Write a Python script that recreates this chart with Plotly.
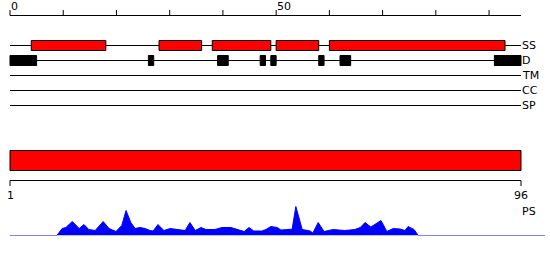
import plotly.graph_objects as go

# ---------------- data ----------------
SEQ_LEN = 96
top_ticks = [0, 10, 20, 30, 40, 50, 60, 70, 80, 90]
top_tick_labels = ["0", "", "", "", "", "50", "", "", "", ""]

tracks = ["SS", "D", "TM", "CC", "SP"]

ss_start = [4, 28, 38, 50, 60]
ss_end = [18, 36, 49, 58, 93]

d_start = [0, 26, 39, 47, 49, 58, 62, 91]
d_end = [5, 27, 41, 48, 50, 59, 64, 96]

ps_domain = [1, 96]
ps_tick_labels = ["1", "96"]
ps_label = "PS"

ps_pos = [0, 8.8, 9.8, 10.5, 11.7, 13.0, 13.9, 14.8, 16.0, 17.5, 18.6, 19.9, 21.0,
          21.8, 22.7, 23.5, 24.4, 25.4, 26.3, 26.9, 27.8, 28.9, 30.1, 31.6, 32.9,
          33.8, 34.8, 35.9, 36.8, 38.5, 39.8, 41.5, 42.7, 44.0, 44.9, 45.8, 47.3,
          48.1, 49.0, 50.2, 50.9, 53.0, 53.7, 54.9, 56.4, 56.9, 57.9, 59.0, 60.7,
          62.9, 64.8, 65.8, 66.7, 67.8, 69.7, 70.8, 72.0, 73.3, 74.2, 74.8, 75.9,
          76.7, 100.5]
ps_val = [0, 0, 7, 8, 14, 7, 11, 6, 5, 14, 7, 4, 10,
          25, 13, 7, 8, 7, 5, 4.5, 11, 5, 7, 6, 5,
          13, 5, 8, 6, 6, 8, 8, 6, 4, 8, 4.5, 4.5,
          6, 9, 8, 5.5, 6.3, 29, 6, 4.5, 2.5, 13, 4, 6,
          5, 6, 8, 13, 8.5, 15, 4, 7, 6.5, 5, 9, 6,
          0, 0]

# ---------------- layout constants ----------------
PX_PER_UNIT = 511 / SEQ_LEN          # top scale
LEFT_PX = 10
W, H = 550, 260
row_y = [45.5, 60.5, 75.5, 90.5, 105.5]
BOX_HALF = 5
AX_Y = 15.5
BAR_Y0, BAR_Y1 = 150.5, 170.5
BOT_AX_Y = 180.5
FONT = dict(family="DejaVu Sans", size=11, color="black")

x_range = [-LEFT_PX / PX_PER_UNIT, (W - LEFT_PX) / PX_PER_UNIT]
px2 = 511 / (ps_domain[1] - ps_domain[0])
x2_range = [ps_domain[0] - LEFT_PX / px2, ps_domain[0] + (W - LEFT_PX) / px2]

fig = go.Figure()

# profile area
fig.add_trace(go.Scatter(
    x=ps_pos, y=ps_val, xaxis="x", yaxis="y2", mode="lines",
    line=dict(color="#0000FF", width=1), fill="tozeroy", fillcolor="#0000FF",
    hoverinfo="skip"))
# anchor traces so axes exist
fig.add_trace(go.Scatter(x=[0], y=[0], xaxis="x", yaxis="y", mode="markers",
                         marker=dict(opacity=0), hoverinfo="skip"))
fig.add_trace(go.Scatter(x=[ps_domain[0]], y=[0], xaxis="x2", yaxis="y", mode="markers",
                         marker=dict(opacity=0), hoverinfo="skip"))

shapes = []
annots = []
LINE = dict(color="black", width=1)

# top scale
shapes.append(dict(type="line", xref="x", yref="y", x0=0, x1=SEQ_LEN, y0=AX_Y, y1=AX_Y, line=LINE))
for t, lab in zip(top_ticks, top_tick_labels):
    shapes.append(dict(type="line", xref="x", yref="y", x0=t, x1=t, y0=10, y1=AX_Y, line=LINE))
    if lab:
        annots.append(dict(x=t, y=6, xref="x", yref="y", text=lab, showarrow=False,
                           xanchor="left", yanchor="middle", font=FONT, xshift=-1))

# track lines and labels
for name, y in zip(tracks, row_y):
    shapes.append(dict(type="line", xref="x", yref="y", x0=0, x1=SEQ_LEN, y0=y, y1=y, line=LINE))
    annots.append(dict(x=SEQ_LEN, y=y, xref="x", yref="y", text=name, showarrow=False,
                       xanchor="left", yanchor="middle", font=FONT, xshift=-1))

# SS boxes
for s, e in zip(ss_start, ss_end):
    y = row_y[0]
    shapes.append(dict(type="rect", xref="x", yref="y", x0=s, x1=e,
                       y0=y - BOX_HALF, y1=y + BOX_HALF,
                       fillcolor="#FF0000", line=LINE))
# D boxes
for s, e in zip(d_start, d_end):
    y = row_y[1]
    shapes.append(dict(type="rect", xref="x", yref="y", x0=s, x1=e,
                       y0=y - BOX_HALF, y1=y + BOX_HALF,
                       fillcolor="black", line=LINE))

# PS bar and its axis
shapes.append(dict(type="rect", xref="x2", yref="y", x0=ps_domain[0], x1=ps_domain[1],
                   y0=BAR_Y0, y1=BAR_Y1, fillcolor="#FF0000", line=LINE))
shapes.append(dict(type="line", xref="x2", yref="y", x0=ps_domain[0], x1=ps_domain[1],
                   y0=BOT_AX_Y, y1=BOT_AX_Y, line=LINE))
for t, lab in zip(ps_domain, ps_tick_labels):
    shapes.append(dict(type="line", xref="x2", yref="y", x0=t, x1=t,
                       y0=BOT_AX_Y, y1=186, line=LINE))
    annots.append(dict(x=t, y=195, xref="x2", yref="y", text=lab, showarrow=False,
                       xanchor="center", yanchor="middle", font=FONT))
annots.append(dict(x=ps_domain[1], y=211, xref="x2", yref="y", text=ps_label, showarrow=False,
                   xanchor="left", yanchor="middle", font=FONT, xshift=-1))

fig.update_layout(
    width=W, height=H, margin=dict(l=0, r=0, t=0, b=0, pad=0),
    paper_bgcolor="white", plot_bgcolor="white", showlegend=False,
    xaxis=dict(range=x_range, visible=False, domain=[0, 1], fixedrange=True),
    xaxis2=dict(range=x2_range, visible=False, overlaying="x", fixedrange=True),
    yaxis=dict(range=[H, 0], visible=False, domain=[0, 1], fixedrange=True),
    yaxis2=dict(range=[0, 40], visible=False, anchor="x",
                domain=[(H - 235.5) / H, (H - 195.5) / H], fixedrange=True),
    shapes=shapes, annotations=annots,
)

fig.write_html("out.html")
